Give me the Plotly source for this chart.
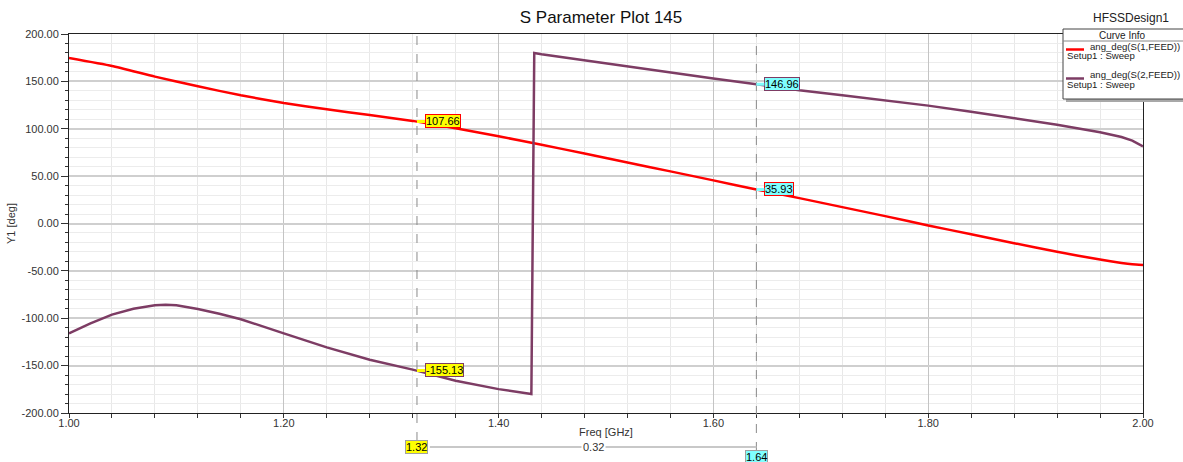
import plotly.graph_objects as go

# ---------------- data ----------------
freq_s11 = [1.00, 1.04, 1.08, 1.12, 1.16, 1.20, 1.24, 1.28, 1.32, 1.36, 1.40, 1.44,
            1.48, 1.52, 1.56, 1.60, 1.64, 1.68, 1.72, 1.76, 1.80, 1.84, 1.88, 1.92,
            1.96, 1.98, 1.99, 2.00]
s11_deg = [174.7, 166.3, 155.0, 144.8, 135.3, 127.2, 120.5, 114.5, 108.3, 100.5, 92.0, 83.2,
           73.8, 64.4, 55.0, 45.5, 35.93, 26.8, 17.3, 7.8, -2.1, -11.3, -20.8, -29.9,
           -38.0, -41.6, -43.0, -43.7]

freq_s21 = [1.00, 1.02, 1.04, 1.06, 1.08, 1.09, 1.10, 1.12, 1.14, 1.16, 1.20, 1.24, 1.28,
            1.32, 1.36, 1.40, 1.4305, 1.4332, 1.44, 1.48, 1.52, 1.56, 1.60, 1.64, 1.68,
            1.72, 1.76, 1.80, 1.84, 1.88, 1.92, 1.96, 1.98, 1.99, 2.00]
s21_deg = [-116.0, -105.5, -96.2, -90.0, -86.2, -85.8, -86.4, -90.2, -95.3, -101.0, -116.0,
           -130.7, -143.8, -154.2, -166.0, -174.8, -180.0, 180.0, 178.6, 172.0, 165.5,
           159.2, 153.0, 146.96, 140.6, 135.3, 130.0, 124.4, 118.0, 111.3, 104.3, 96.2,
           91.3, 87.5, 81.4]

series_names = ["ang_deg(S(1,FEED))", "ang_deg(S(2,FEED))"]
series_setup = ["Setup1 : Sweep", "Setup1 : Sweep"]
series_colors = ["#FF0000", "#7D3C64"]

marker_x = [1.324, 1.64]
marker_s11 = [107.66, 35.93]
marker_s21 = [-155.13, 146.96]
marker_fill = ["#FFFF00", "#80FFFF"]

x_ticks = [1.0, 1.2, 1.4, 1.6, 1.8, 2.0]
y_ticks = [200, 150, 100, 50, 0, -50, -100, -150, -200]

title_text = "S Parameter Plot 145"
design_text = "HFSSDesign1"
legend_title = "Curve Info"
x_title = "Freq [GHz]"
y_title = "Y1 [deg]"

# ---------------- layout helpers ----------------
W_FIG, H_FIG = 1183, 462
L, R, T, B = 69, 1143, 34, 413
FONT = "Liberation Sans, Arial, sans-serif"


def px(x):
    return (x - L) / (R - L)


def py(y):
    return (B - y) / (B - T)


fig = go.Figure()
fig.add_trace(go.Scatter(x=freq_s11, y=s11_deg, mode="lines", name=series_names[0],
                         line=dict(color=series_colors[0], width=2.5, shape="spline", smoothing=0.5)))
fig.add_trace(go.Scatter(x=freq_s21, y=s21_deg, mode="lines", name=series_names[1],
                         line=dict(color=series_colors[1], width=2.5)))

shapes = []
annotations = []

# marker dashed lines
dash_bottom = [441, 451]
for i, mx in enumerate(marker_x):
    shapes.append(dict(type="line", xref="x", yref="paper", x0=mx, x1=mx,
                       y0=py(dash_bottom[i]), y1=1, line=dict(color="#8a8a8a", width=1, dash="dash"),
                       layer="above"))

# marker value labels on curves
for i, mx in enumerate(marker_x):
    for val, col in ((marker_s11[i], series_colors[0]), (marker_s21[i], series_colors[1])):
        annotations.append(dict(x=mx, y=val, xref="x", yref="y", text=f"{val:.2f}",
                                showarrow=True, ax=8, ay=0, xanchor="left", yanchor="middle",
                                arrowhead=0, arrowwidth=3, arrowcolor=marker_fill[i], standoff=0,
                                bgcolor=marker_fill[i], bordercolor=col, borderwidth=1, borderpad=0,
                                font=dict(family=FONT, size=11, color="#000")))

# bottom delta row
delta = marker_x[1] - marker_x[0]
shapes.append(dict(type="line", xref="x", yref="paper", x0=marker_x[0] + 0.012, x1=marker_x[1],
                   y0=py(447), y1=py(447), line=dict(color="#c8c8c8", width=2)))
annotations.append(dict(x=marker_x[0], y=py(447), xref="x", yref="paper", text=f"{marker_x[0]:.2f}",
                        showarrow=False, xanchor="center", yanchor="middle",
                        bgcolor=marker_fill[0], bordercolor="#a0a0a0", borderwidth=1, borderpad=0,
                        font=dict(family=FONT, size=11, color="#000")))
annotations.append(dict(x=marker_x[1], y=py(457), xref="x", yref="paper", text=f"{marker_x[1]:.2f}",
                        showarrow=False, xanchor="center", yanchor="middle",
                        bgcolor=marker_fill[1], bordercolor="#a0a0a0", borderwidth=1, borderpad=0,
                        font=dict(family=FONT, size=11, color="#000")))
annotations.append(dict(x=(marker_x[0] + marker_x[1]) / 2 + 0.006, y=py(447), xref="x", yref="paper",
                        text=f"{delta:.2f}", showarrow=False, xanchor="center", yanchor="middle",
                        bgcolor="#ffffff", borderpad=1,
                        font=dict(family=FONT, size=11, color="#333")))

# legend box (HFSS style)
shapes.append(dict(type="rect", xref="paper", yref="paper", x0=px(1066), x1=px(1200),
                   y0=py(102), y1=py(32), fillcolor="#a8a8a8", line=dict(width=0)))
shapes.append(dict(type="rect", xref="paper", yref="paper", x0=px(1063), x1=px(1196),
                   y0=py(99), y1=py(29), fillcolor="#ffffff", line=dict(color="#444", width=1)))
shapes.append(dict(type="line", xref="paper", yref="paper", x0=px(1063), x1=px(1196),
                   y0=py(41), y1=py(41), line=dict(color="#888", width=1)))
annotations.append(dict(x=px(1122), y=py(35), xref="paper", yref="paper", text=legend_title,
                        showarrow=False, xanchor="center", yanchor="middle",
                        font=dict(family=FONT, size=10, color="#222")))
entry_y = [48, 77]
for i in range(2):
    ey = entry_y[i]
    shapes.append(dict(type="line", xref="paper", yref="paper", x0=px(1066), x1=px(1084),
                       y0=py(ey + 1.5), y1=py(ey + 1.5), line=dict(color=series_colors[i], width=2.5)))
    annotations.append(dict(x=px(1088), y=py(ey - 2), xref="paper", yref="paper", text=series_names[i],
                            showarrow=False, xanchor="left", yanchor="middle",
                            font=dict(family=FONT, size=9.6, color="#222")))
    annotations.append(dict(x=px(1065), y=py(ey + 7), xref="paper", yref="paper", text=series_setup[i],
                            showarrow=False, xanchor="left", yanchor="middle",
                            font=dict(family=FONT, size=9.6, color="#222")))

# design name
annotations.append(dict(x=px(1131), y=py(18), xref="paper", yref="paper", text=design_text,
                        showarrow=False, xanchor="center", yanchor="middle",
                        font=dict(family=FONT, size=12, color="#222")))

fig.update_layout(
    width=W_FIG, height=H_FIG,
    margin=dict(l=L, r=W_FIG - R, t=T, b=H_FIG - B, autoexpand=False),
    paper_bgcolor="#ffffff", plot_bgcolor="#ffffff",
    showlegend=False,
    font=dict(family=FONT, size=11, color="#333"),
    title=dict(text=title_text, x=601 / W_FIG, xanchor="center", xref="container",
               y=1 - 17.5 / H_FIG, yanchor="middle", yref="container",
               font=dict(family=FONT, size=17, color="#111")),
    xaxis=dict(range=[1.0, 2.0], tickmode="array", tickvals=x_ticks,
               ticktext=[f"{v:.2f}" for v in x_ticks],
               ticks="outside", ticklen=4, tickcolor="#333", tickwidth=1,
               ticklabelstandoff=-4,
               showline=True, linecolor="#222", linewidth=1, mirror=True,
               showgrid=True, gridcolor="#c4c4c4", gridwidth=1, zeroline=False,
               minor=dict(tickmode="linear", tick0=1.0, dtick=0.04, ticks="outside", ticklen=4,
                          tickcolor="#333", showgrid=True, gridcolor="#e8e8e8", gridwidth=1),
               tickfont=dict(family=FONT, size=11, color="#333"),
               title=dict(text=x_title, standoff=0, font=dict(family=FONT, size=11, color="#333"))),
    yaxis=dict(range=[-200, 200], tickmode="array", tickvals=y_ticks,
               ticktext=[f"{v:.2f}" for v in y_ticks],
               ticks="outside", ticklen=7, tickcolor="#333", tickwidth=1,
               showline=True, linecolor="#222", linewidth=1, mirror=True,
               showgrid=True, gridcolor="#cfcfcf", gridwidth=1.5, zeroline=False,
               minor=dict(tickmode="linear", tick0=-200, dtick=10, ticks="outside", ticklen=3,
                          tickcolor="#333", showgrid=True, gridcolor="#ececec", gridwidth=1),
               tickfont=dict(family=FONT, size=11, color="#333"),
               title=dict(text=y_title, standoff=3, font=dict(family=FONT, size=11, color="#333"))),
    shapes=shapes,
    annotations=annotations,
)

fig.write_html("out.html")
